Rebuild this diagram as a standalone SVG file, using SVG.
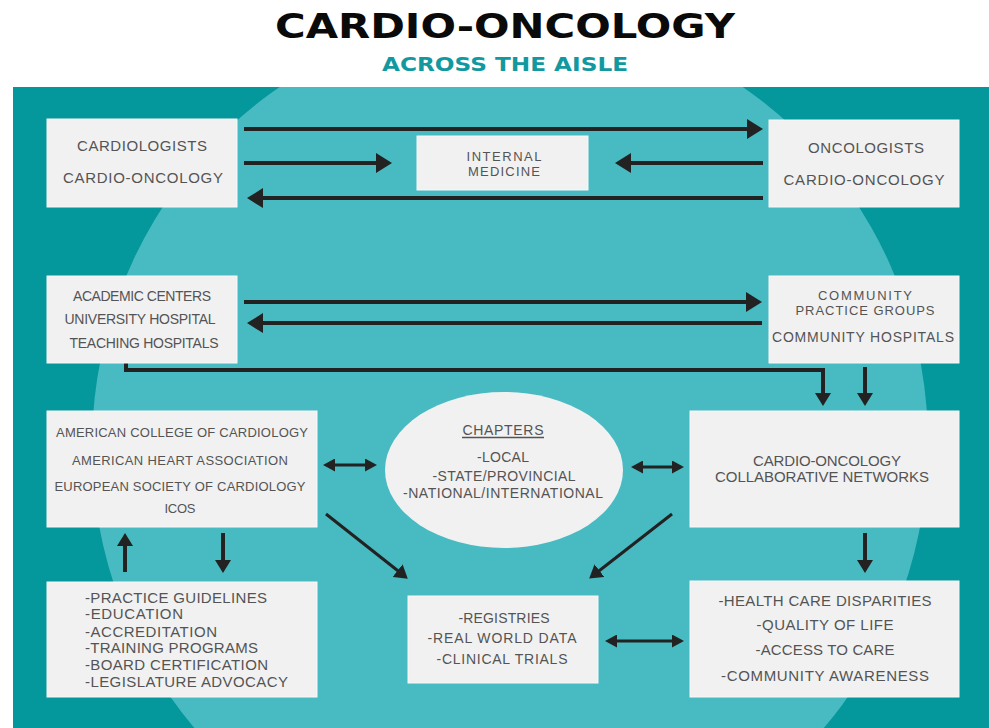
<svg xmlns="http://www.w3.org/2000/svg" width="989" height="728" viewBox="0 0 989 728">
<style>
.box{fill:#f1f1f1;stroke:#f8f8f8;stroke-width:1}
.t{font-family:"Liberation Sans",Arial,sans-serif;fill:#545454;text-anchor:middle;font-size:15px}
.tl{text-anchor:start}
.s14{font-size:14px}
.s13{font-size:13px}
.c{fill:none;stroke:#222;stroke-linejoin:miter}
.w4{stroke-width:4}
.w3{stroke-width:3}
</style>
<defs>
<clipPath id="bgclip"><rect x="13" y="87" width="976" height="641"/></clipPath>
<marker id="big" viewBox="0 0 16 20" refX="8" refY="10" markerWidth="16" markerHeight="20" markerUnits="userSpaceOnUse" orient="auto"><path d="M0,0 L16,10 L0,20 z" fill="#222"/></marker>
<marker id="med" viewBox="0 0 13 16" refX="6" refY="8" markerWidth="13" markerHeight="16" markerUnits="userSpaceOnUse" orient="auto"><path d="M0,0 L13,8 L0,16 z" fill="#222"/></marker>
<marker id="sm" viewBox="0 0 12 13" refX="6" refY="6.5" markerWidth="12" markerHeight="13" markerUnits="userSpaceOnUse" orient="auto-start-reverse"><path d="M0,0 L12,6.5 L0,13 z" fill="#222"/></marker>
</defs>
<rect x="0" y="0" width="989" height="728" fill="#ffffff"/>
<g id="title">
<text x="505" y="38" font-family="'DejaVu Sans','Liberation Sans',sans-serif" font-weight="bold" font-size="33" fill="#0a0a0a" text-anchor="middle" textLength="460" lengthAdjust="spacingAndGlyphs">CARDIO-ONCOLOGY</text>
<text x="505" y="71" font-family="'DejaVu Sans','Liberation Sans',sans-serif" font-weight="bold" font-size="19" fill="#12999f" text-anchor="middle" textLength="246" lengthAdjust="spacingAndGlyphs">ACROSS THE AISLE</text>
</g>
<g id="background">
<rect x="13" y="87" width="976" height="641" fill="#04979b"/>
<g clip-path="url(#bgclip)"><ellipse cx="510" cy="445" rx="418" ry="430" fill="#48bac2" transform="rotate(3.5 510 445)"/></g>
</g>
<g id="connectors">
<path class="c w4" d="M244,129 H755" marker-end="url(#big)"/>
<path class="c w4" d="M244,163 H384" marker-end="url(#big)"/>
<path class="c w4" d="M763,163 H623" marker-end="url(#big)"/>
<path class="c w4" d="M763,198 H255" marker-end="url(#big)"/>
<path class="c w4" d="M244,302 H754" marker-end="url(#big)"/>
<path class="c w4" d="M762,323 H255" marker-end="url(#big)"/>
<path class="c w4" d="M126,363 V370 H823 V399" marker-end="url(#med)"/>
<path class="c w4" d="M865,367 V399" marker-end="url(#med)"/>
<path class="c w3" d="M329,465 H371" marker-start="url(#sm)" marker-end="url(#sm)"/>
<path class="c w3" d="M637,467 H678" marker-start="url(#sm)" marker-end="url(#sm)"/>
<path class="c w3" d="M611,641 H678" marker-start="url(#sm)" marker-end="url(#sm)"/>
<path class="c w3" d="M326,514 L402.3,574.3" marker-end="url(#med)"/>
<path class="c w3" d="M672,514 L594.7,574.3" marker-end="url(#med)"/>
<path class="c w4" d="M125,572 V540" marker-end="url(#med)"/>
<path class="c w4" d="M223,533 V566" marker-end="url(#med)"/>
<path class="c w4" d="M865,533 V566" marker-end="url(#med)"/>
</g>
<g id="cardiologists">
<rect class="box" x="47" y="119" width="190" height="88"/>
<text class="t" x="142" y="151" textLength="130">CARDIOLOGISTS</text>
<text class="t" x="143" y="183" textLength="160">CARDIO-ONCOLOGY</text>
</g>
<g id="internal-medicine">
<rect class="box" x="417" y="136" width="171" height="54"/>
<text class="t s13" x="504" y="161" textLength="75">INTERNAL</text>
<text class="t s13" x="504" y="176" textLength="72">MEDICINE</text>
</g>
<g id="oncologists">
<rect class="box" x="769" y="120" width="190" height="87"/>
<text class="t" x="866" y="153" textLength="116">ONCOLOGISTS</text>
<text class="t" x="864" y="185" textLength="161">CARDIO-ONCOLOGY</text>
</g>
<g id="academic">
<rect class="box" x="47" y="276" width="190" height="87"/>
<text class="t s14" x="142" y="301" textLength="138">ACADEMIC CENTERS</text>
<text class="t s14" x="140" y="324" textLength="151">UNIVERSITY HOSPITAL</text>
<text class="t s14" x="144" y="348" textLength="149">TEACHING HOSPITALS</text>
</g>
<g id="community">
<rect class="box" x="769" y="276" width="190" height="87"/>
<text class="t s13" x="865" y="300" textLength="94">COMMUNITY</text>
<text class="t s13" x="865" y="315" textLength="139">PRACTICE GROUPS</text>
<text class="t s14" x="863" y="342" textLength="182">COMMUNITY HOSPITALS</text>
</g>
<g id="societies">
<rect class="box" x="47" y="411" width="270" height="116"/>
<text class="t s13" x="182" y="437" textLength="252">AMERICAN COLLEGE OF CARDIOLOGY</text>
<text class="t s13" x="180" y="465" textLength="216">AMERICAN HEART ASSOCIATION</text>
<text class="t s13" x="180" y="491" textLength="251">EUROPEAN SOCIETY OF CARDIOLOGY</text>
<text class="t s13" x="180" y="513" textLength="31">ICOS</text>
</g>
<g id="chapters">
<ellipse cx="504" cy="470" rx="119" ry="78" fill="#f1f1f1"/>
<text class="t s14" x="503" y="435" textLength="81">CHAPTERS</text>
<line x1="462" y1="437.5" x2="544" y2="437.5" stroke="#545454" stroke-width="1.3"/>
<text class="t s14" x="503" y="462" textLength="52">-LOCAL</text>
<text class="t s14" x="504" y="481" textLength="143">-STATE/PROVINCIAL</text>
<text class="t s14" x="503" y="498" textLength="200">-NATIONAL/INTERNATIONAL</text>
</g>
<g id="collaborative">
<rect class="box" x="690" y="411" width="269" height="116"/>
<text class="t"><tspan x="827" y="466" textLength="148">CARDIO-ONCOLOGY</tspan><tspan x="822" y="482" textLength="214">COLLABORATIVE NETWORKS</tspan></text>
</g>
<g id="guidelines">
<rect class="box" x="47" y="582" width="270" height="115"/>
<text class="t tl"><tspan x="85" y="603" textLength="182">-PRACTICE GUIDELINES</tspan><tspan x="85" y="619" textLength="98">-EDUCATION</tspan><tspan x="85" y="637" textLength="132">-ACCREDITATION</tspan><tspan x="85" y="653" textLength="173">-TRAINING PROGRAMS</tspan><tspan x="85" y="670" textLength="183">-BOARD CERTIFICATION</tspan><tspan x="85" y="687" textLength="203">-LEGISLATURE ADVOCACY</tspan></text>
</g>
<g id="registries">
<rect class="box" x="408" y="596" width="190" height="87"/>
<text class="t s14" x="504" y="623" textLength="91">-REGISTRIES</text>
<text class="t s14" x="502" y="643" textLength="149">-REAL WORLD DATA</text>
<text class="t s14" x="502" y="664" textLength="131">-CLINICAL TRIALS</text>
</g>
<g id="outcomes">
<rect class="box" x="690" y="581" width="269" height="116"/>
<text class="t" x="825" y="606" textLength="213">-HEALTH CARE DISPARITIES</text>
<text class="t" x="825" y="630" textLength="137">-QUALITY OF LIFE</text>
<text class="t" x="825" y="655" textLength="139">-ACCESS TO CARE</text>
<text class="t" x="825" y="681" textLength="208">-COMMUNITY AWARENESS</text>
</g>
</svg>
